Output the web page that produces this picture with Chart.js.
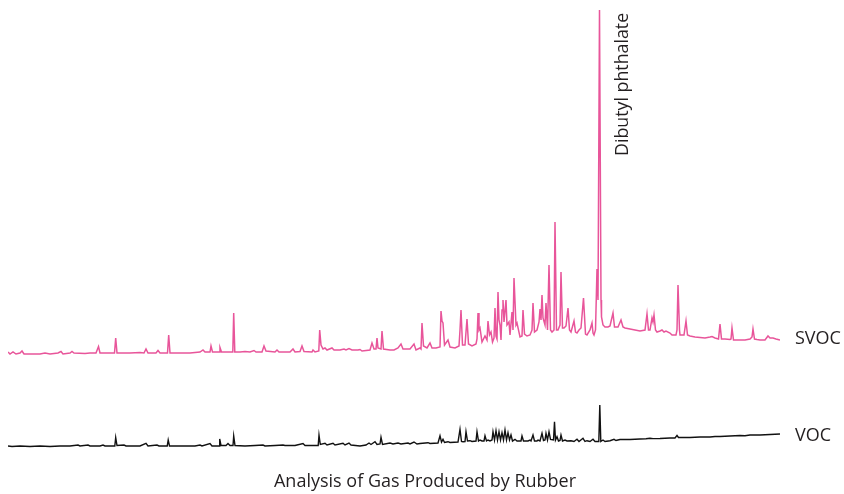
<!DOCTYPE html>
<html>
<head>
<meta charset="utf-8">
<script src="https://cdn.jsdelivr.net/npm/chart.js@4"></script>
<style>
html,body{margin:0;padding:0;background:#fff;}
#wrap{width:844px;height:494px;position:relative;}
</style>
</head>
<body>
<div id="wrap"><canvas id="c"></canvas></div>
<script>
// Scan index (retention axis) and abundance
const svocScan = [0,2,5,8,12,14,16,32,37,42,50,53,55,62,64,66,77,82,88,90.5,92,98,106.5,107.7,109,122,132,136,138,140,148,150,152,159.5,160.7,162,172,182,192,195,197,202,203,204.5,211,212,213.5,222,224.8,225.7,226.8,232,237,242,246,248,254,256,258,267,269,271,282,285,287,292,294,296,304,305,307,310.8,311.7,313,315,317,319,324,326,332,336,338,341,344,350,352,354,362,364,366,368,369,370,373,374,375.5,382,386,390,393,395,402,406,408,412,413,414,415.5,419,422,424,428,432,433,434,435,436.5,440,442,447,451,452,453,454.5,457,459,460.5,464,468,469,470,471,472,474,477,479,480,481.5,483,484.5,486,487,488,489,490,491,492,493,494,495,496,498,499,501,502,504,505,506,508,509,512,514,515,516.5,519,522,524,525,526.5,529,531,532,533,534,535,537,538,539.5,541,542.5,544,546,547,548.5,550,552,553,554.5,556,558,560,561.5,563,566,567.5,569,571,573,575.5,577.5,579,582,584,585,586,587.5,589,590,591.5,593,593.5,595,597,600,602,605,606.5,610,613,615,617,622,627,632,637,639,640.5,642,644,645,646,647.5,649,652,654,656,658,662,664,668,669,670,671.5,672,676,678,679.5,682,687,692,697,702,704,707,710.5,712,713.5,717,722,723,724,725.5,732,737,742,744,745,746.5,749,752,757,760,762,765,768,772];
const svocAbundance = [108,106,108,106,107,109,106,106,107,106,107,108.5,106,107,108.5,107,106.5,107,107,113.5,107,107,107,122,107,107,107.5,107,111,107,107,109.5,107,107,125,107,107,107,108,110,108,108,114,108,108,112.5,108,108,108,147,108,108,108.5,108,109.5,108,108,114,109,108,110,108,108,111,108,108.5,114,108.5,108,110,108,109,130,115,111,112,110,112,110,110,111,110,111.5,110,110,110.5,109,110,117,111,111,122,112,111,129,111,110,110,112,116,111,111,116,110,112,111,137,114,112,117,112,112,113,149,139,137,115,120,113,112,114,130,150,115,115,141,116,114,116,121,147,130,132,118,124,120,139,125,128,118,122,152,124,121,168,140,135,120,150,160,138,160,135,138,125,148,130,182,135,137,123,124,150,126,124,125,130,157,128,130,138,151,140,165,142,135,157,130,195,130,128,130,238,130,130,135,188,132,132,134,152,130,128,139,128,127,130,132,162,126,125,130,137,127,125,130,191,160,450,160,143,135,133,133,134,147,133,133,140,133,132,131,130,129,130,146,130,130,142,138,145,130,128,129,130,128,129,127,125,125,130,175,130,125,125,139,125,124,123,122.5,122,123,123.5,122,121,136,121,121,120.5,121,132,120,120,120,121,123,131,121,120.5,120,120,124,122,122,121,120];

const vocScan = [0,4,12,22,32,42,52,62,70,72,80,82,92,95,97,106.8,107.7,109,116,118,132,138,140,149,151,159.2,160.2,161.5,172,187,192,194,202,204,211,211.7,213,218,220,222,225,225.7,227,237,247,255,257,267,275,277,287,295,297,310.2,311,312.3,317,319,325,327,335,337,341,343,352,358,361,363,367,369,372,373,374.5,382,385,390,393,400,402,406,409,412,420,422,430,432,433.5,435,436.5,440,442,450,452,453.5,455,457,458,459.5,462,464,468,469,470.5,472,474,476,477,478.5,480,482,484,485,486.5,488,489.5,491,492.5,494,495.5,497,498.5,500,501.5,503,504.5,507,509,513,514,515.5,520,522,523,525,526.5,529,530,532,534,535.5,537,538,539.5,541,542.5,545.5,546.5,547.5,549,550.5,552,553,554.5,557,559,563,566,569,571,575,577,579,582,585,587,590.8,591.8,592.8,595,597,602,606,608,612,622,632,638,642,645,652,662,667,669,670.5,674,682,692,702,707,712,722,732,737,742,752,757,762,767,772];
const vocAbundance = [14,13.5,14,13.5,14,13.5,14,14,15,14,15,14,14,15,14,14,22.5,14.5,15,14,14,16.7,14,15,14,14,20,14,14,14,15,14,16.5,14,14,21,14.5,14.5,16.5,14.5,14.5,24,14.5,14,14.5,15,14,14.5,15,14.5,14.5,16.5,14.5,14.5,25,15.5,16.7,15,16.7,15,16.7,15,17,15,14,15,17,15.5,18.3,15.5,16,22.7,15.5,17,16,17,16,17,16,18,16,16.5,17.3,16.5,17,24.3,18,20.7,17.5,18.3,17.5,18,30.7,18.5,18.3,18.5,28.3,19,19.3,18.5,19,28.3,19,20,19,19,24.3,19,20,19,20,28.3,20,29.3,20,28.3,20,27.3,20,30,20,27.3,20,25,19,20.7,19,19,24,19,19,20,19,25,19,19,20,19,26.7,19.5,20,26.7,20,28.3,20.5,20,38.3,20,23.3,19,19.5,25,19,20,19,19.3,18.5,20.7,18.5,21.7,18.5,19.3,18.5,20.7,18.5,18.5,55,18.5,20,18.5,19.3,20.7,19.5,20.5,20.5,21,21.2,21.7,21.4,21.5,22,22,24.5,22.5,22.5,22.5,23,23,23.5,23.5,24,24.5,24.2,25,25,25.2,25.5,25.7,26];

const seriesNames = ['SVOC', 'VOC'];
const peakName = 'Dibutyl phthalate';
const peakScan = 591.5;
const peakAbundance = 450;
const chartTitle = 'Analysis of Gas Produced by Rubber';

function toPoints(xs, ys){ return xs.map((x,i)=>({x:x, y:ys[i]})); }

const labelPlugin = {
  id: 'traceLabels',
  afterDatasetsDraw(chart){
    const ctx = chart.ctx, xs = chart.scales.x, ys = chart.scales.y, area = chart.chartArea;
    const nudge = [-1, 2];
    ctx.save();
    ctx.fillStyle = '#231f20';
    ctx.font = '18px "Open Sans"';
    ctx.textAlign = 'left';
    ctx.textBaseline = 'middle';
    chart.data.datasets.forEach((ds, i) => {
      const last = ds.data[ds.data.length-1];
      ctx.fillText(ds.label, area.right + 15, ys.getPixelForValue(last.y) + nudge[i]);
    });
    // chart title centred on the page
    ctx.textAlign = 'center';
    ctx.font = '18px "Open Sans"';
    ctx.fillText(chartTitle, chart.width / 2 + 3, area.bottom + 22);
    // rotated peak annotation
    const px = xs.getPixelForValue(peakScan);
    const py = ys.getPixelForValue(peakAbundance);
    ctx.translate(px + 23, py + 146);
    ctx.rotate(-Math.PI/2);
    ctx.font = '17.8px "Open Sans"';
    ctx.textAlign = 'left';
    ctx.textBaseline = 'middle';
    ctx.fillText(peakName, 0, 0);
    ctx.restore();
  }
};

new Chart(document.getElementById('c'), {
  type: 'line',
  data: {
    datasets: [
      { label: seriesNames[0], data: toPoints(svocScan, svocAbundance), borderColor: '#e8559a', borderWidth: 1.5, pointRadius: 0, tension: 0, fill: false },
      { label: seriesNames[1], data: toPoints(vocScan, vocAbundance), borderColor: '#111111', borderWidth: 1.4, pointRadius: 0, tension: 0, fill: false }
    ]
  },
  options: {
    responsive: true,
    maintainAspectRatio: false,
    devicePixelRatio: 1,
    animation: false,
    layout: { padding: { left: 8, right: 64, top: 0, bottom: 34 } },
    scales: {
      x: { type: 'linear', min: 0, max: 772, display: false },
      y: { type: 'linear', min: 0, max: 460, display: false }
    },
    plugins: {
      legend: { display: false },
      tooltip: { enabled: false },
      title: { display: false }
    }
  },
  plugins: [labelPlugin]
});
</script>
</body>
</html>
